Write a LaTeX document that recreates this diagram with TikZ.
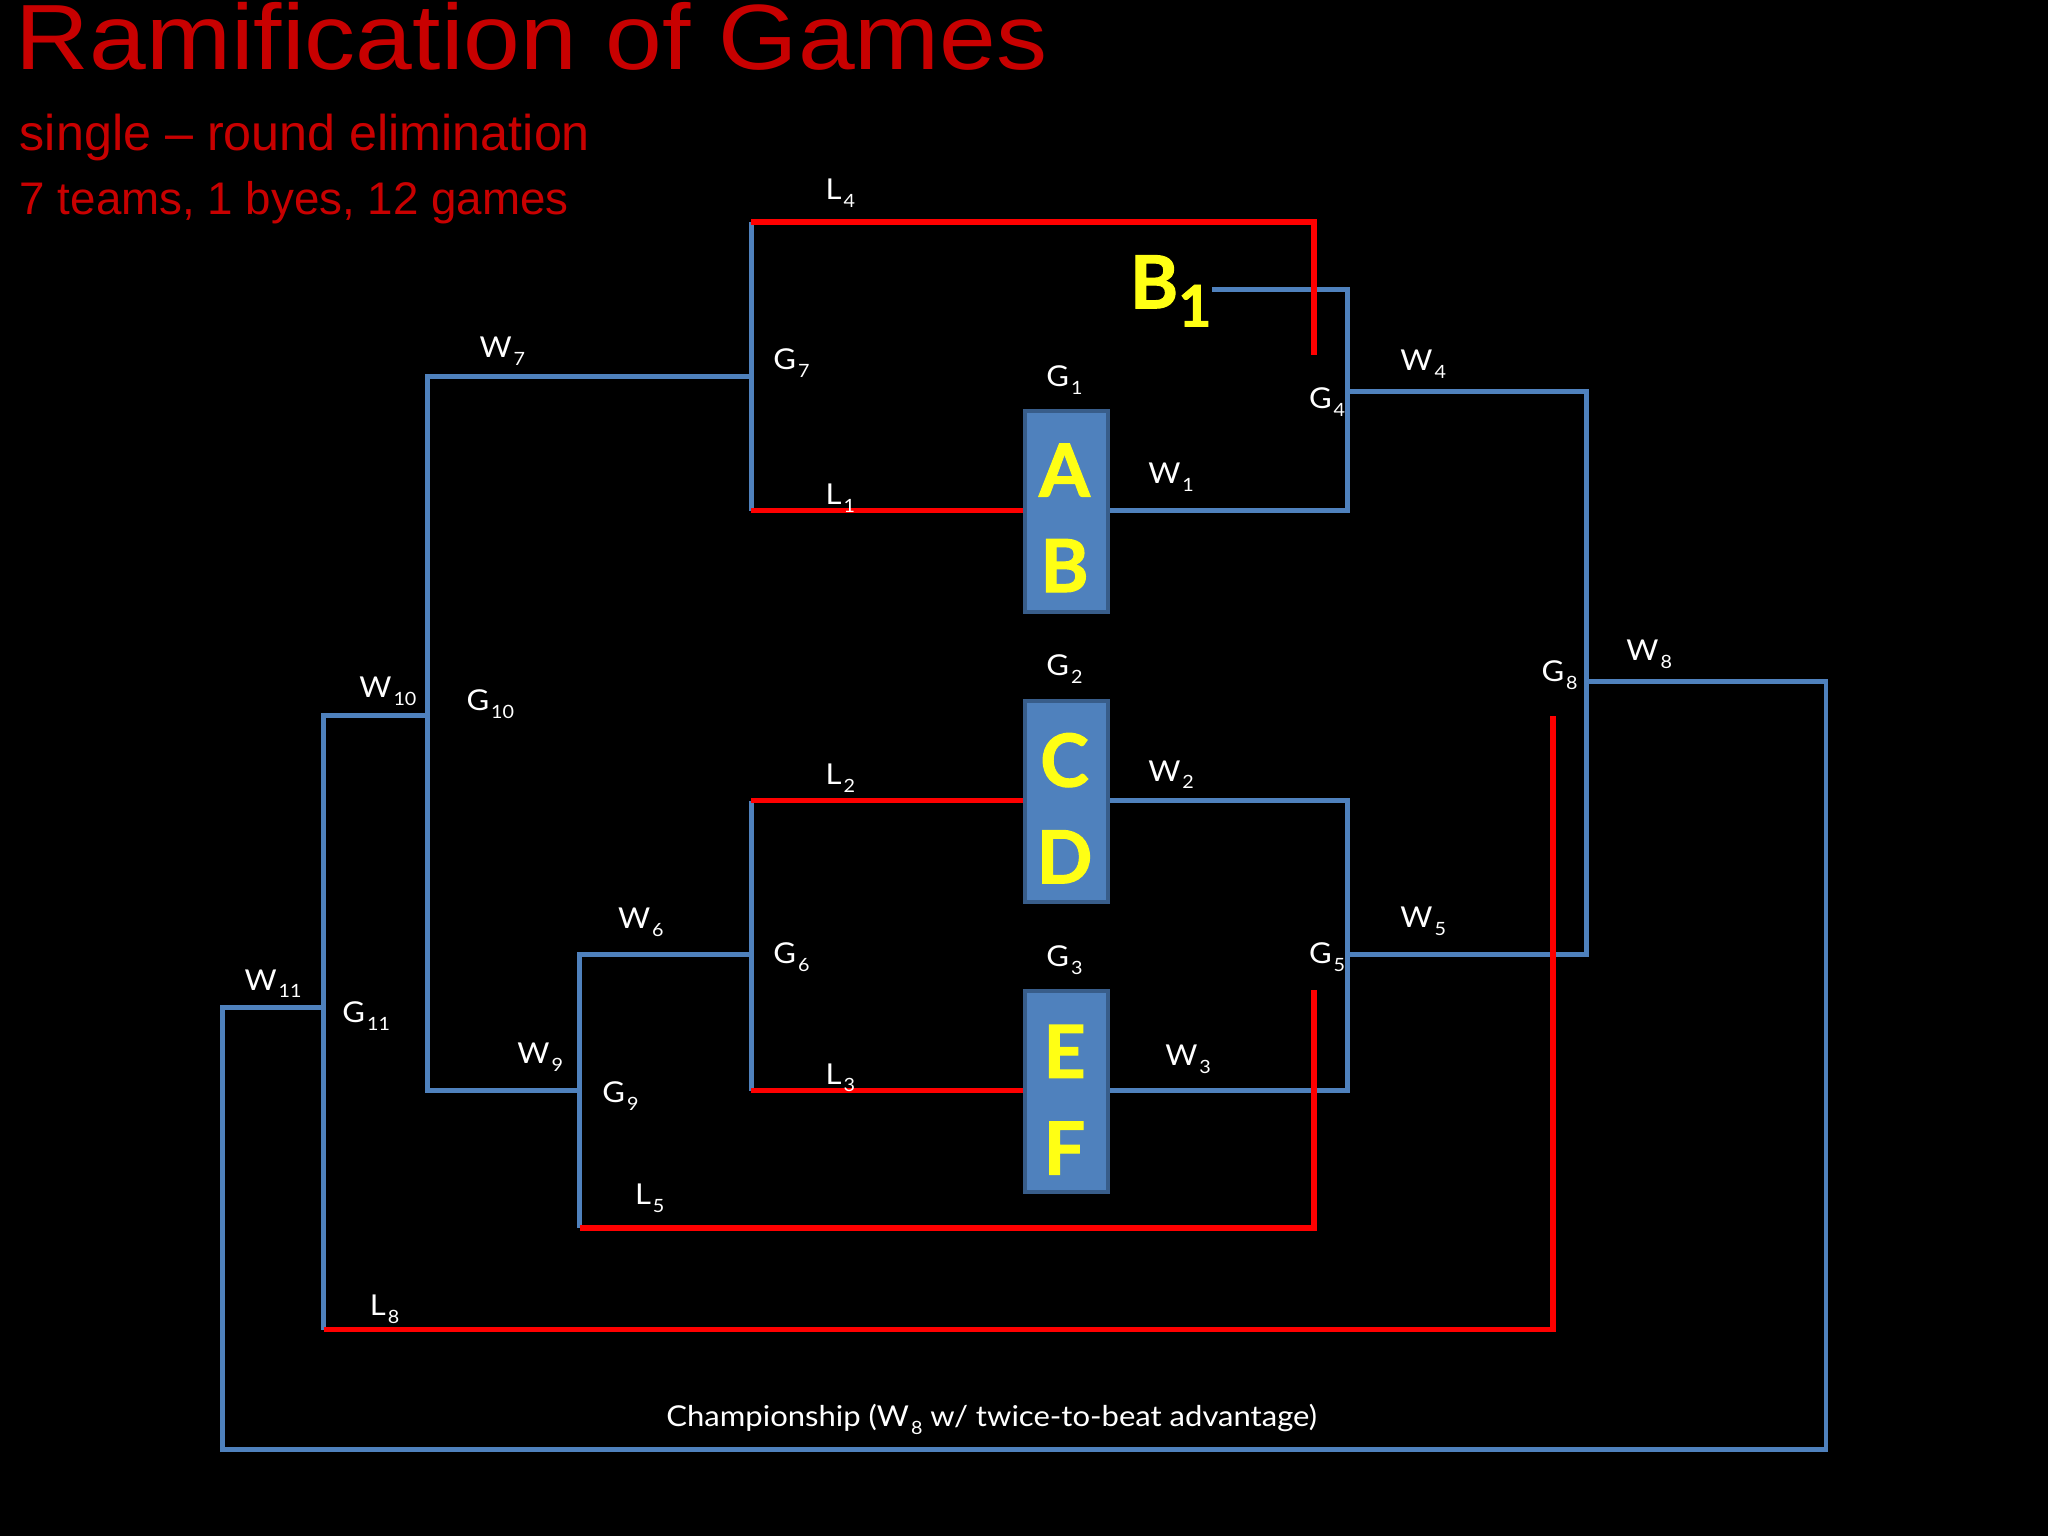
\documentclass[tikz,border=0pt]{standalone}
\usepackage{fontspec}
\setmainfont{Lato}[FakeStretch=1.08]
\newfontfamily\arialf{Liberation Sans}
\newfontfamily\arialwide{Liberation Sans}[FakeStretch=1.1]
\newfontfamily\heavyfont{Lato}[BoldFeatures={FakeBold=1.5}]
\definecolor{bblue}{RGB}{79,129,189}
\definecolor{bedge}{RGB}{56,93,138}
\definecolor{lred}{RGB}{255,0,0}
\definecolor{tred}{RGB}{200,0,0}
\definecolor{yel}{RGB}{255,255,20}
\newcommand\sbx[1]{\hspace{1.5pt}\raisebox{-6pt}{\fontsize{14}{14}\selectfont #1}}
\begin{document}
\begin{tikzpicture}[x=1pt,y=-1pt,
  bl/.style={draw=bblue,line width=3.8pt},
  rd/.style={draw=lred,line width=4.2pt},
  lab/.style={text=white,font=\fontsize{22}{22}\selectfont,inner sep=0pt,anchor=base west},
  teambox/.style={fill=bblue,draw=bedge,line width=3pt,minimum width=64pt,minimum height=154pt,inner sep=0pt},
  letter/.style={text=yel,font=\heavyfont\bfseries\fontsize{56}{56}\selectfont,inner sep=0pt}]
\fill[black] (0,0) rectangle (1568,1176);
\clip (0,0) rectangle (1568,1176);
\useasboundingbox (0,0) rectangle (1568,1176);

% titles
\node[text=tred,font=\arialwide\fontsize{71}{71}\selectfont,inner sep=0pt,anchor=base west] (title) at (12,53.5) {Ramification of Games};
\node[text=tred,font=\arialf\fontsize{38.5}{38.5}\selectfont,inner sep=0pt,anchor=base west] (sub1) at (15,115) {single – round elimination};
\node[text=tred,font=\arialf\fontsize{35}{35}\selectfont,inner sep=0pt,anchor=base west] (sub2) at (15,164) {7 teams, 1 byes, 12 games};

% boxes
\node[teambox] (ab) at (816.5,391.5) {};
\node[teambox] (cd) at (816.5,613.5) {};
\node[teambox] (ef) at (816.5,835.5) {};
\node[letter] (la) at (815,360) {A};
\node[letter] (lb) at (815,433) {B};
\node[letter] (lc) at (815,582) {C};
\node[letter] (ld) at (815,656) {D};
\node[letter] (le) at (815,805) {E};
\node[letter] (lf) at (815,879) {F};
\node[letter,anchor=base west] (bye) at (865,236) {B\raisebox{-14pt}{\fontsize{44}{44}\selectfont 1}};

% coordinates
\coordinate (g7t) at (575,170);
\coordinate (g7m) at (575,288);
\coordinate (g7b) at (575,391);
\coordinate (g4t) at (1032,222);
\coordinate (g4m) at (1032,300);
\coordinate (g4b) at (1032,391);
\coordinate (byeE) at (928,222);
\coordinate (l4c) at (1006,170);
\coordinate (l4e) at (1006,272);
\coordinate (g8t) at (1215,300);
\coordinate (g8m) at (1215,522);
\coordinate (g8b) at (1215,731);
\coordinate (g5t) at (1032,613);
\coordinate (g5m) at (1032,731);
\coordinate (g5b) at (1032,835);
\coordinate (g6t) at (575,613);
\coordinate (g6m) at (575,731);
\coordinate (g6b) at (575,835);
\coordinate (g9t) at (444,731);
\coordinate (g9m) at (444,835);
\coordinate (g9b) at (444,940);
\coordinate (l5c) at (1006,940);
\coordinate (l5e) at (1006,758);
\coordinate (g10t) at (327,288);
\coordinate (g10m) at (327,548);
\coordinate (g10b) at (327,835);
\coordinate (g11t) at (248,548);
\coordinate (g11m) at (248,771);
\coordinate (g11b) at (248,1018);
\coordinate (l8c) at (1189,1018);
\coordinate (l8e) at (1189,548);
\coordinate (w8c) at (1398,522);
\coordinate (chR) at (1398,1110);
\coordinate (chL) at (170,1110);
\coordinate (w11c) at (170,771);

% blue connectors
\draw[bl] (g7t) -- (g7b);
\draw[bl] (g7m) -- (g10t) -- (g10b) -- (g9m);
\draw[bl] (byeE) -- (g4t) -- (g4b) -- (ab.east |- g4b);
\draw[bl] (g4m) -- (g8t) -- (g8b) -- (g5m);
\draw[bl] (cd.east |- g5t) -- (g5t) -- (g5b) -- (ef.east |- g5b);
\draw[bl] (g6t) -- (g6b);
\draw[bl] (g6m) -- (g9t) -- (g9b);
\draw[bl] (g10m) -- (g11t) -- (g11b);
\draw[bl] (g8m) -- (w8c) -- (chR) -- (chL) -- (w11c) -- (g11m);

% red connectors
\draw[rd] (g7t) -- (l4c) -- (l4e);
\draw[rd] (g7b) -- (ab.west |- g7b);
\draw[rd] (g6t) -- (cd.west |- g6t);
\draw[rd] (g6b) -- (ef.west |- g6b);
\draw[rd] (g9b) -- (l5c) -- (l5e);
\draw[rd] (g11b) -- (l8c) -- (l8e);

% labels
\node[lab] (tL4) at (632,153) {L\sbx{4}};
\node[lab] (tW7) at (367,274) {W\sbx{7}};
\node[lab] (tG7) at (592,283) {G\sbx{7}};
\node[lab] (tG1) at (801,296) {G\sbx{1}};
\node[lab] (tW1) at (879,370) {W\sbx{1}};
\node[lab] (tL1) at (632,386) {L\sbx{1}};
\node[lab] (tG4) at (1002,313) {G\sbx{4}};
\node[lab] (tW4) at (1072,284) {W\sbx{4}};
\node[lab] (tG2) at (801,517) {G\sbx{2}};
\node[lab] (tW10) at (275,534) {W\sbx{10}};
\node[lab] (tG10) at (357,544) {G\sbx{10}};
\node[lab] (tG8) at (1180,522) {G\sbx{8}};
\node[lab] (tW8) at (1245,506) {W\sbx{8}};
\node[lab] (tL2) at (632,601) {L\sbx{2}};
\node[lab] (tW2) at (879,598) {W\sbx{2}};
\node[lab] (tW6) at (473,711) {W\sbx{6}};
\node[lab] (tG6) at (592,738) {G\sbx{6}};
\node[lab] (tG3) at (801,740) {G\sbx{3}};
\node[lab] (tW5) at (1072,710) {W\sbx{5}};
\node[lab] (tG5) at (1002,738) {G\sbx{5}};
\node[lab] (tW11) at (187,758) {W\sbx{11}};
\node[lab] (tG11) at (262,783) {G\sbx{11}};
\node[lab] (tW9) at (396,814) {W\sbx{9}};
\node[lab] (tW3) at (892,816) {W\sbx{3}};
\node[lab] (tL3) at (632,830) {L\sbx{3}};
\node[lab] (tG9) at (461,844) {G\sbx{9}};
\node[lab] (tL5) at (486,922) {L\sbx{5}};
\node[lab] (tL8) at (283,1007) {L\sbx{8}};
\node[lab] (tch) at (510,1092) {Championship (W\sbx{8} w/ twice-to-beat advantage)};
\end{tikzpicture}
\end{document}
